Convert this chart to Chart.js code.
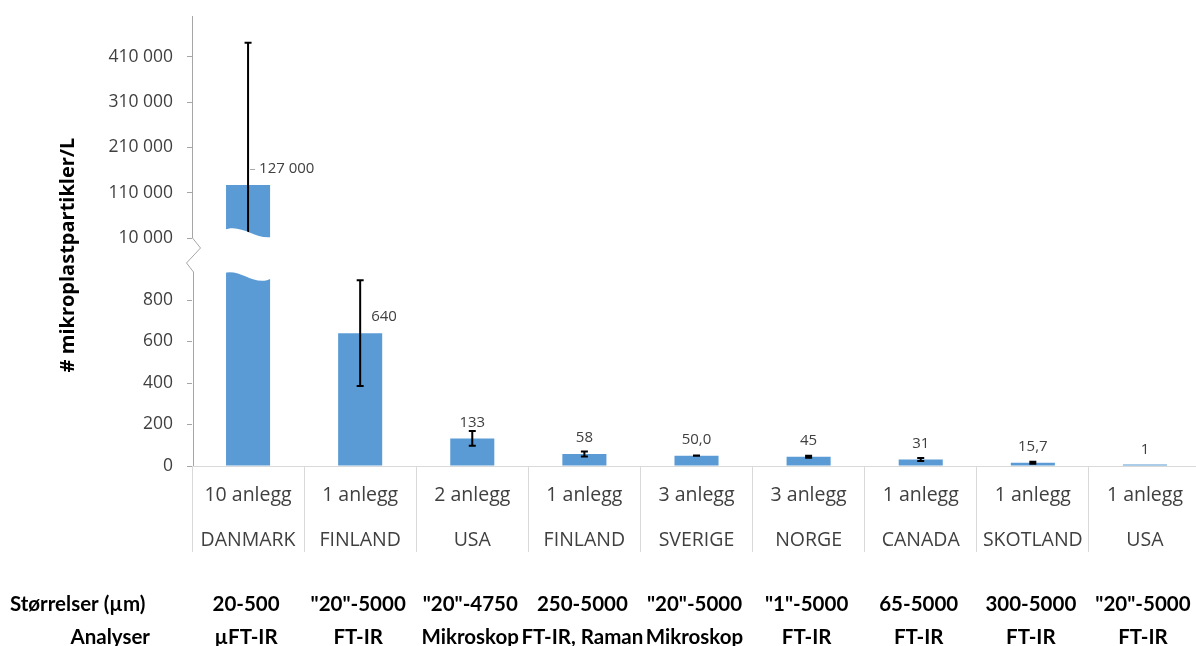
<!DOCTYPE html>
<html>
<head>
<meta charset="utf-8">
<script src="https://cdn.jsdelivr.net/npm/chart.js@4.4.1/dist/chart.umd.min.js"></script>
<style>
  html, body { margin: 0; padding: 0; background: #fff; overflow: hidden; }
  canvas { display: block; }
</style>
</head>
<body>
<canvas id="chart" width="1201" height="646"></canvas>
<script>
// Microplastic particles per litre in treated wastewater, by study
const facilities   = ['10 anlegg', '1 anlegg', '2 anlegg', '1 anlegg', '3 anlegg', '3 anlegg', '1 anlegg', '1 anlegg', '1 anlegg'];
const countries    = ['DANMARK', 'FINLAND', 'USA', 'FINLAND', 'SVERIGE', 'NORGE', 'CANADA', 'SKOTLAND', 'USA'];
const particlesPerL = [127000, 640, 133, 58, 50.0, 45, 31, 15.7, 1];
const labelDecimals = [0, 0, 0, 0, 1, 0, 0, 1, 0];
const errorPlus    = [314000, 255, 36, 12, 1, 5, 7, 5, 0];
const errorMinus   = [314000, 255, 36, 12, 1, 5, 7, 5, 0];
const sizeRanges   = ['20-500', '"20"-5000', '"20"-4750', '250-5000', '"20"-5000', '"1"-5000', '65-5000', '300-5000', '"20"-5000'];
const methods      = ['µFT-IR', 'FT-IR', 'Mikroskop', 'FT-IR, Raman', 'Mikroskop', 'FT-IR', 'FT-IR', 'FT-IR', 'FT-IR'];
const yTickValues  = [0, 200, 400, 600, 800, 10000, 110000, 210000, 310000, 410000];
const yTitle = '# mikroplastpartikler/L';
const rowSizeTitle = 'Størrelser (µm)';
const rowMethodTitle = 'Analyser';

// Norwegian number format: space as thousands separator, comma as decimal mark
function formatNo(v, decimals) {
  const [i, f] = v.toFixed(decimals || 0).split('.');
  const int = i.replace(/\B(?=(\d{3})+(?!\d))/g, ' ');
  return f ? int + ',' + f : int;
}

// Linear scale with a break: a low segment (0..lowMax) and a high segment (highMin..max)
class BrokenLinearScale extends Chart.LinearScale {
  static id = 'brokenLinear';
  static defaults = {};
  _parts() {
    const b = this.options.brk;
    const h = this.bottom - this.top;
    const lowH = h * b.lowFrac, gapH = h * b.gapFrac;
    return { b, lowH, gapH, highH: h - lowH - gapH };
  }
  getPixelForValue(value) {
    if (value === null || value === undefined || isNaN(value)) return NaN;
    const { b, lowH, gapH, highH } = this._parts();
    if (value <= b.lowMax) return this.bottom - (value / b.lowMax) * lowH;
    if (value >= b.highMin) return this.bottom - lowH - gapH - ((value - b.highMin) / (this.max - b.highMin)) * highH;
    return this.bottom - lowH - ((value - b.lowMax) / (b.highMin - b.lowMax)) * gapH;
  }
  getValueForPixel(pixel) {
    const { b, lowH, gapH, highH } = this._parts();
    const d = this.bottom - pixel;
    if (d <= lowH) return d / lowH * b.lowMax;
    if (d >= lowH + gapH) return b.highMin + (d - lowH - gapH) / highH * (this.max - b.highMin);
    return b.lowMax + (d - lowH) / gapH * (b.highMin - b.lowMax);
  }
}
Chart.register(BrokenLinearScale);

const BAR_BLUE = '#5B9BD5';
const AXIS_GRAY = '#a6a6a6';
const TEXT_GRAY = '#404040';

const overlayPlugin = {
  id: 'overlay',
  afterDatasetsDraw(chart) {
    const ctx = chart.ctx;
    const y = chart.scales.y;
    const area = chart.chartArea;
    const brk = y.options.brk;
    const meta = chart.getDatasetMeta(0);

    // error bars
    ctx.save();
    ctx.strokeStyle = '#000';
    ctx.lineWidth = 2;
    meta.data.forEach((bar, i) => {
      const v = particlesPerL[i];
      if (!errorPlus[i] && !errorMinus[i]) return;
      const hi = v + errorPlus[i];
      let lo = v - errorMinus[i];
      let loCap = true;
      if (v >= brk.highMin && lo < brk.highMin) { lo = brk.highMin; loCap = false; }
      const yHi = y.getPixelForValue(hi), yLo = y.getPixelForValue(lo);
      ctx.beginPath();
      ctx.moveTo(bar.x, yHi); ctx.lineTo(bar.x, yLo);
      ctx.moveTo(bar.x - 3.5, yHi); ctx.lineTo(bar.x + 3.5, yHi);
      if (loCap) { ctx.moveTo(bar.x - 3.5, yLo); ctx.lineTo(bar.x + 3.5, yLo); }
      ctx.stroke();
    });
    ctx.restore();

    // wavy break through bars that reach the high segment
    const yBandTop = y.getPixelForValue(brk.highMin);
    const yBandBot = y.getPixelForValue(brk.lowMax);
    ctx.save();
    ctx.fillStyle = '#fff';
    meta.data.forEach((bar, i) => {
      if (particlesPerL[i] < brk.highMin) return;
      const L = bar.x - bar.width / 2 - 2, R = bar.x + bar.width / 2 + 2, w = R - L;
      ctx.beginPath();
      ctx.moveTo(L, yBandTop - 8);
      ctx.bezierCurveTo(L + w * 0.35, yBandTop - 15, L + w * 0.65, yBandTop + 2, R, yBandTop - 1);
      ctx.lineTo(R, yBandBot + 6);
      ctx.bezierCurveTo(L + w * 0.65, yBandBot + 16, L + w * 0.35, yBandBot - 4, L, yBandBot + 1);
      ctx.closePath();
      ctx.fill();
    });
    ctx.restore();

    // value axis line with zigzag at the break
    const ax = Math.round(area.left) + 0.5;
    ctx.save();
    ctx.strokeStyle = AXIS_GRAY;
    ctx.lineWidth = 1;
    ctx.beginPath();
    ctx.moveTo(ax, area.top);
    ctx.lineTo(ax, yBandTop);
    ctx.lineTo(ax + 8, yBandTop + 10);
    ctx.lineTo(ax - 6, yBandTop + 25);
    ctx.lineTo(ax + 1, yBandBot);
    ctx.lineTo(ax + 1, area.bottom);
    ctx.stroke();
    ctx.restore();

    // value labels
    ctx.save();
    ctx.font = '15px "Open Sans"';
    ctx.fillStyle = TEXT_GRAY;
    ctx.textBaseline = 'middle';
    meta.data.forEach((bar, i) => {
      const v = particlesPerL[i];
      const txt = formatNo(v, labelDecimals[i]);
      const yTop = y.getPixelForValue(v);
      const yErr = y.getPixelForValue(v + errorPlus[i]);
      const ly = yTop - 16;
      if (yTop - yErr > 20) {
        ctx.textAlign = 'left';
        ctx.fillText(txt, bar.x + 11, ly);
        if (v >= brk.highMin) {
          ctx.strokeStyle = AXIS_GRAY;
          ctx.lineWidth = 1;
          ctx.beginPath();
          ctx.moveTo(bar.x + 2, ly + 0.5);
          ctx.lineTo(bar.x + 7, ly + 0.5);
          ctx.stroke();
        }
      } else {
        ctx.textAlign = 'center';
        ctx.fillText(txt, bar.x, ly);
      }
    });
    ctx.restore();
  },
  afterDraw(chart) {
    const ctx = chart.ctx;
    const x = chart.scales.x;

    // y axis title
    ctx.save();
    ctx.translate(68, 255);
    ctx.rotate(-Math.PI / 2);
    ctx.font = 'bold 20px "Open Sans"';
    ctx.fillStyle = '#000';
    ctx.textAlign = 'center';
    ctx.textBaseline = 'middle';
    ctx.fillText(yTitle, 0, 0);
    ctx.restore();

    // size range and analysis method rows below the axis
    ctx.save();
    ctx.font = 'bold 20.5px Lato';
    ctx.fillStyle = '#000';
    ctx.textBaseline = 'middle';
    ctx.textAlign = 'left';
    ctx.fillText(rowSizeTitle, 10, 604);
    ctx.textAlign = 'right';
    ctx.fillText(rowMethodTitle, 150, 637);
    ctx.textAlign = 'center';
    sizeRanges.forEach((s, i) => {
      const cx = x.getPixelForValue(i) - 2;
      ctx.fillText(s, cx, 604);
      ctx.fillText(methods[i], cx, 637);
    });
    ctx.restore();
  }
};

new Chart(document.getElementById('chart'), {
  type: 'bar',
  data: {
    labels: facilities.map((f, i) => [f, countries[i]]),
    datasets: [{
      data: particlesPerL,
      backgroundColor: BAR_BLUE,
      barPercentage: 0.393,
      categoryPercentage: 1,
      minBarLength: 1.5
    }]
  },
  options: {
    responsive: false,
    animation: false,
    devicePixelRatio: 1,
    layout: { padding: { top: 16, left: 0, right: 0, bottom: 0 } },
    plugins: { legend: { display: false }, tooltip: { enabled: false } },
    scales: {
      x: {
        afterFit: s => { s.height = 180; s.paddingLeft = 0; s.paddingRight = 0; },
        grid: { offset: true, drawOnChartArea: false, tickLength: 86, color: '#d9d9d9' },
        border: { color: '#d9d9d9' },
        ticks: {
          padding: -79,
          autoSkip: false,
          maxRotation: 0,
          color: TEXT_GRAY,
          font: { family: 'Open Sans', size: 19.5, lineHeight: 2.3 }
        }
      },
      y: {
        type: 'brokenLinear',
        min: 0,
        max: 500000,
        brk: { lowMax: 935, highMin: 10000, lowFrac: 194 / 450, gapFrac: 34 / 450 },
        afterBuildTicks: s => { s.ticks = yTickValues.map(value => ({ value })); },
        afterFit: s => { s.width = 192; s.paddingTop = 0; s.paddingBottom = 0; },
        grid: { drawOnChartArea: false, drawTicks: true, tickLength: 5, color: AXIS_GRAY },
        border: { display: false },
        ticks: {
          autoSkip: false,
          padding: 14,
          color: TEXT_GRAY,
          font: { family: 'Open Sans', size: 17.5 },
          callback: v => formatNo(v, 0)
        }
      }
    }
  },
  plugins: [overlayPlugin]
});
</script>
</body>
</html>
